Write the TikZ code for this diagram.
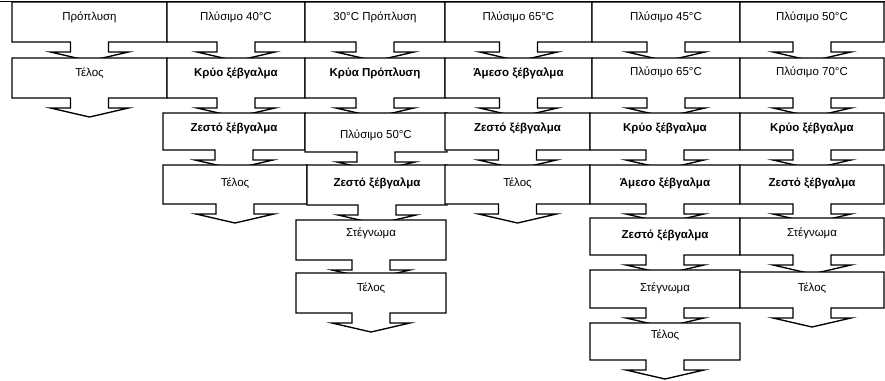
\documentclass[tikz,border=0pt]{standalone}
\usepackage{fontspec}
\setmainfont{Liberation Sans}
\tikzset{
  boxline/.style={draw=black, fill=white, line width=1.35pt, line join=miter},
  lbl/.style={font=\fontsize{11.5}{13}\selectfont, inner sep=0pt, anchor=center},
  topline/.style={draw=black, line width=1.8pt}
}
% #1 name, #2 x left, #3 x right, #4 y top, #5 y bottom, #6 text, #7 text y
\newcommand\flowbox[7]{%
  \pgfmathsetmacro\fbcx{(#2+#3)/2}%
  \filldraw[boxline] (#2,#4) -- (#3,#4) -- (#3,#5) -- (\fbcx+19,#5) -- (\fbcx+19,#5+10)
     -- (\fbcx+39,#5+10) -- (\fbcx,#5+19) -- (\fbcx-39,#5+10) -- (\fbcx-19,#5+10)
     -- (\fbcx-19,#5) -- (#2,#5) -- cycle;
  \node[lbl] (#1) at (\fbcx,#7) {#6};
}
\begin{document}
\begin{tikzpicture}[x=1pt,y=-1pt]
\useasboundingbox (0,0) rectangle (885,380);
\coordinate (tl) at (0,1.5);
\coordinate (tr) at (885,1.5);
\draw[topline] (tl) -- (tr);
% row 1
\flowbox{a1}{12}{167}{2}{42}{Πρόπλυση}{17}
\flowbox{a2}{167}{305}{2}{42}{Πλύσιμο 40°C}{17}
\flowbox{a3}{305}{445}{2}{42}{30°C Πρόπλυση}{17}
\flowbox{a4}{445}{592}{2}{42}{Πλύσιμο 65°C}{17}
\flowbox{a5}{592}{740}{2}{42}{Πλύσιμο 45°C}{17}
\flowbox{a6}{740}{884}{2}{42}{Πλύσιμο 50°C}{17}
% row 2
\flowbox{b1}{12}{167}{58}{98}{Τέλος}{73}
\flowbox{b2}{167}{305}{58}{98}{\bfseries Κρύο ξέβγαλμα}{73}
\flowbox{b3}{305}{445}{58}{98}{\bfseries Κρύα Πρόπλυση}{73}
\flowbox{b4}{445}{592}{58}{98}{\bfseries Άμεσο ξέβγαλμα}{73}
\flowbox{b5}{592}{740}{58}{98}{Πλύσιμο 65°C}{72}
\flowbox{b6}{740}{884}{58}{98}{Πλύσιμο 70°C}{72}
% row 3
\flowbox{c2}{163}{305}{113}{150}{\bfseries Ζεστό ξέβγαλμα}{128}
\flowbox{c3}{305}{447}{113}{152}{Πλύσιμο 50°C}{135}
\flowbox{c4}{445}{590}{113}{150}{\bfseries Ζεστό ξέβγαλμα}{128}
\flowbox{c5}{590}{740}{113}{150}{\bfseries Κρύο ξέβγαλμα}{128}
\flowbox{c6}{740}{884}{113}{150}{\bfseries Κρύο ξέβγαλμα}{128}
% row 4
\flowbox{d2}{163}{307}{165}{204}{Τέλος}{183}
\flowbox{d3}{307}{447}{165}{205}{\bfseries Ζεστό ξέβγαλμα}{183}
\flowbox{d4}{445}{590}{165}{204}{Τέλος}{183}
\flowbox{d5}{590}{740}{165}{204}{\bfseries Άμεσο ξέβγαλμα}{183}
\flowbox{d6}{740}{884}{165}{204}{\bfseries Ζεστό ξέβγαλμα}{183}
% row 5
\flowbox{e3}{296}{446}{220}{260}{Στέγνωμα}{233}
\flowbox{e5}{590}{740}{218}{255}{\bfseries Ζεστό ξέβγαλμα}{235}
\flowbox{e6}{740}{884}{218}{255}{Στέγνωμα}{233}
% row 6
\flowbox{f3}{296}{446}{273}{313}{Τέλος}{288}
\flowbox{f5}{590}{740}{270}{308}{Στέγνωμα}{288}
\flowbox{f6}{740}{884}{272}{308}{Τέλος}{288}
% row 7
\flowbox{g5}{590}{740}{323}{360}{Τέλος}{335}
\end{tikzpicture}
\end{document}
